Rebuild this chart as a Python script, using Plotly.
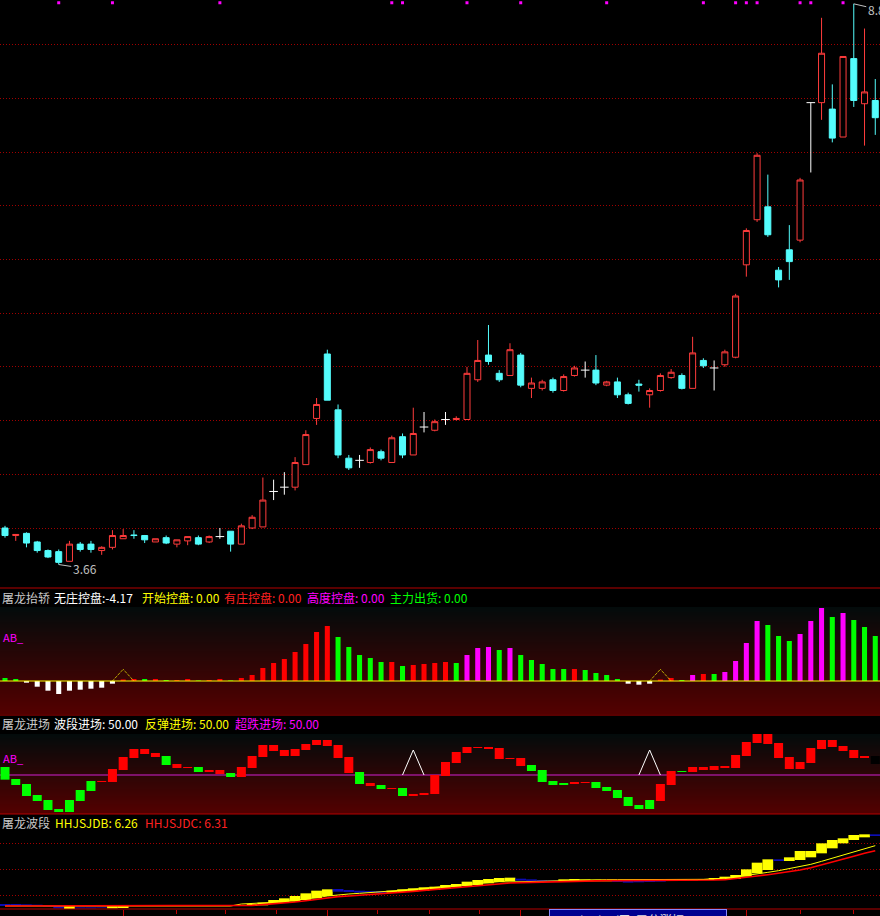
import plotly.graph_objects as go

FIG_W, FIG_H = 880, 916

# ---------------- data ----------------
bar_index = list(range(82))

opens = [4.00, 3.93, 3.95, 3.87, 3.79, 3.78, 3.69, 3.85, 3.85, 3.79,
         3.82, 3.90, 3.935, 3.93, 3.87, 3.91, 3.85, 3.88, 3.91, 3.87,
         3.92, 3.97, 3.85, 4.00, 4.01, 4.34, 4.38, 4.38, 4.59, 5.02,
         5.62, 5.10, 4.65, 4.63, 4.61, 4.71, 4.61, 4.85, 4.68, 4.94,
         4.91, 5.01, 5.01, 5.01, 5.38, 5.61, 5.44, 5.42, 5.61, 5.30,
         5.30, 5.38, 5.28, 5.42, 5.47, 5.47, 5.33, 5.36, 5.24, 5.34,
         5.24, 5.28, 5.40, 5.42, 5.30, 5.56, 5.49, 5.52, 5.59, 6.45,
         6.87, 6.99, 6.40, 6.59, 6.68, 7.96, 7.96, 7.90, 7.64, 8.37,
         7.95, 7.98]
highs = [4.02, 3.94, 3.96, 3.88, 3.80, 3.80, 3.88, 3.87, 3.88, 3.83,
         3.98, 3.99, 3.98, 3.935, 3.90, 3.93, 3.89, 3.92, 3.93, 3.93,
         4.00, 3.97, 4.04, 4.12, 4.47, 4.45, 4.52, 4.66, 4.91, 5.21,
         5.66, 5.15, 4.68, 4.68, 4.75, 4.73, 4.86, 4.88, 5.12, 5.08,
         5.01, 5.08, 5.04, 5.50, 5.75, 5.89, 5.47, 5.72, 5.63, 5.40,
         5.38, 5.40, 5.43, 5.51, 5.55, 5.61, 5.37, 5.40, 5.26, 5.38,
         5.30, 5.44, 5.48, 5.44, 5.78, 5.58, 5.56, 5.66, 6.18, 6.79,
         7.49, 7.29, 6.43, 6.82, 7.26, 7.96, 8.75, 8.13, 8.39, 8.88,
         8.65, 8.18]
lows = [3.91, 3.88, 3.82, 3.77, 3.72, 3.66, 3.69, 3.78, 3.77, 3.75,
        3.80, 3.90, 3.90, 3.86, 3.87, 3.85, 3.82, 3.84, 3.84, 3.86,
        3.90, 3.78, 3.85, 3.99, 4.01, 4.26, 4.31, 4.35, 4.59, 4.96,
        5.19, 4.65, 4.54, 4.56, 4.60, 4.63, 4.61, 4.65, 4.68, 4.89,
        4.90, 4.96, 5.00, 5.01, 5.36, 5.52, 5.36, 5.42, 5.31, 5.21,
        5.28, 5.26, 5.27, 5.41, 5.40, 5.33, 5.32, 5.21, 5.15, 5.27,
        5.12, 5.27, 5.39, 5.29, 5.30, 5.49, 5.28, 5.50, 5.58, 6.34,
        6.85, 6.71, 6.24, 6.31, 6.66, 7.31, 7.80, 7.59, 7.64, 7.92,
        7.56, 7.66]
closes = [3.93, 3.94, 3.86, 3.79, 3.73, 3.68, 3.85, 3.80, 3.80, 3.82,
          3.93, 3.93, 3.93, 3.89, 3.90, 3.86, 3.89, 3.92, 3.85, 3.92,
          3.92, 3.85, 4.02, 4.10, 4.26, 4.34, 4.38, 4.61, 4.87, 5.15,
          5.19, 4.68, 4.56, 4.63, 4.73, 4.65, 4.84, 4.68, 4.88, 4.94,
          4.99, 5.01, 5.02, 5.44, 5.56, 5.55, 5.38, 5.66, 5.33, 5.35,
          5.36, 5.28, 5.41, 5.49, 5.47, 5.35, 5.36, 5.24, 5.16, 5.33,
          5.28, 5.42, 5.45, 5.30, 5.63, 5.51, 5.49, 5.64, 6.16, 6.77,
          7.47, 6.73, 6.31, 6.48, 7.24, 7.96, 8.42, 7.63, 8.39, 7.98,
          8.06, 7.82]

price_grid = [4.0, 4.5, 5.0, 5.5, 6.0, 6.5, 7.0, 7.5, 8.0, 8.5]
signal_bars = [5, 10, 20, 36, 37, 43, 48, 56, 65, 68, 69, 70, 74, 75, 78]
signal_level = 8.89
low_bar, low_price, low_text = 5, 3.66, "3.66"
high_bar, high_price, high_text = 79, 8.88, "8.88"

# panel 1 : 屠龙抬轿
p1_vals = [3, 2, -1.7, -5.7, -9.7, -13, -9.7, -8.7, -7.7, -6.7,
           -2.7, 1.5, 2, 2, 2, 1, 1, 2, 0.5, 1,
           2, 0.5, 3, 6, 13, 18, 22, 29, 37, 49,
           55, 44, 34, 26, 23, 19, 19, 15, 16, 17,
           18, 19, 18, 26, 33, 34, 31, 33, 26, 21,
           17, 12, 12, 12, 11, 8, 6, 2, -2.7, -3.7,
           -2.7, 1.5, 3, 1, 6, 7, 7, 9, 20, 38,
           60, 56, 45, 40, 47, 60, 73, 64, 68, 61,
           54, 45]
p1_kind = ("GGWWWWWWWWWRRGRGRRGRRGRRRRRRRRRGGGGGRGRRR"
           "RGMMMGMGGGGGRGGGGWWWRRGMRGMMMMGGGMMMGMGGG")
p1_tri_bars = [11, 61]
p1_tri_height = 11.7

# panel 2 : 屠龙进场
p2_hi = [59.6, 45.2, 39.2, 26.0, 20.0, 9.2, 20.0, 32.0, 42.8, 42.8,
         57.2, 71.6, 81.2, 81.2, 76.4, 72.8, 63.2, 59.6, 59.6, 56.0,
         56.0, 52.4, 59.6, 72.8, 86.0, 86.0, 80.0, 81.2, 87.2, 92.0,
         92.0, 86.0, 71.6, 53.6, 40.4, 38.0, 34.4, 34.4, 27.2, 28.4,
         50.0, 65.6, 77.6, 83.6, 83.6, 83.6, 82.4, 70.4, 70.4, 62.0,
         56.0, 42.8, 40.4, 41.6, 41.6, 41.6, 35.6, 32.0, 23.6, 14.0,
         20.0, 39.2, 54.8, 54.8, 59.6, 59.6, 60.8, 60.8, 74.0, 89.6,
         99.2, 99.2, 88.4, 71.6, 65.6, 82.4, 92.0, 92.0, 84.8, 80.0,
         72.8, 72.8]
p2_lo = [44.4, 38.0, 24.8, 18.8, 8.0, 5.6, 5.6, 18.8, 30.8, 41.6,
         41.6, 56.0, 70.4, 75.2, 71.6, 62.0, 58.4, 58.4, 53.6, 53.6,
         51.2, 47.6, 47.6, 58.4, 71.6, 78.8, 72.8, 72.8, 80.0, 86.0,
         84.8, 70.4, 52.4, 39.2, 36.8, 33.2, 33.2, 24.8, 24.8, 26.0,
         27.2, 48.8, 64.4, 76.4, 82.4, 81.2, 69.2, 69.2, 60.8, 54.8,
         41.6, 38.0, 38.0, 39.2, 40.4, 34.4, 30.8, 22.4, 12.8, 9.2,
         9.2, 18.8, 38.0, 53.6, 53.6, 56.0, 56.0, 58.4, 58.4, 72.8,
         88.4, 87.2, 70.4, 57.2, 57.2, 64.4, 81.2, 83.6, 78.8, 70.4,
         70.4, 63.2]
p2_kind = ("GGGGGGGGGRRRRRRGRRGRRGRRRRRRRRRRRGRGRGRRR"
           "RRRRRRRRGGGGRRGGGGGGRRGRRRRRRRRRRRRRRRRR")
p2_mid = 50.0
p2_tri_bars = [38, 60]
p2_tri_top = 80.0

# panel 3 : 屠龙波段
band_a = [4.00, 4.00, 4.00, 4.00, 3.98, 3.93, 4.00, 3.93, 3.93, 3.94,
          4.00, 4.00, 4.00, 4.00, 4.00, 4.00, 4.00, 4.00, 4.00, 4.00,
          4.00, 4.00, 4.03, 4.06, 4.10, 4.18, 4.23, 4.30, 4.38, 4.46,
          4.50, 4.43, 4.42, 4.40, 4.40, 4.39, 4.46, 4.50, 4.53, 4.56,
          4.58, 4.63, 4.66, 4.73, 4.78, 4.81, 4.84, 4.85, 4.76, 4.75,
          4.73, 4.72, 4.80, 4.81, 4.80, 4.79, 4.78, 4.72, 4.70, 4.71,
          4.72, 4.73, 4.81, 4.81, 4.80, 4.81, 4.84, 4.88, 4.93, 5.10,
          5.30, 5.40, 5.35, 5.46, 5.65, 5.65, 5.88, 5.98, 6.03, 6.13,
          6.15, 6.10]
band_b = [4.06, 4.06, 4.05, 4.04, 4.03, 4.00, 3.90, 3.96, 3.96, 3.96,
          3.93, 3.94, 4.00, 4.00, 4.00, 4.00, 4.00, 4.00, 4.00, 4.00,
          4.00, 4.00, 4.00, 4.00, 4.02, 4.06, 4.09, 4.13, 4.18, 4.23,
          4.30, 4.51, 4.48, 4.46, 4.45, 4.45, 4.40, 4.42, 4.44, 4.46,
          4.48, 4.52, 4.56, 4.60, 4.63, 4.68, 4.72, 4.74, 4.82, 4.80,
          4.78, 4.77, 4.73, 4.74, 4.74, 4.74, 4.74, 4.76, 4.76, 4.75,
          4.75, 4.76, 4.76, 4.77, 4.77, 4.78, 4.78, 4.78, 4.81, 4.88,
          4.98, 5.08, 5.40, 5.35, 5.38, 5.46, 5.58, 5.73, 5.88, 5.98,
          6.06, 6.15]
hhjsjdb = [4.00, 4.00, 4.00, 4.00, 4.00, 4.00, 4.00, 4.00, 4.00, 4.00,
           4.00, 4.00, 4.00, 4.00, 4.00, 4.00, 4.00, 4.00, 4.00, 4.00,
           4.00, 4.00, 4.06, 4.07, 4.09, 4.11, 4.14, 4.17, 4.21, 4.25,
           4.30, 4.34, 4.36, 4.38, 4.40, 4.42, 4.44, 4.47, 4.50, 4.53,
           4.56, 4.59, 4.62, 4.65, 4.68, 4.71, 4.73, 4.72, 4.73, 4.74,
           4.75, 4.76, 4.77, 4.78, 4.78, 4.79, 4.79, 4.79, 4.79, 4.79,
           4.80, 4.80, 4.80, 4.80, 4.80, 4.80, 4.82, 4.83, 4.87, 4.91,
           4.96, 5.01, 5.06, 5.12, 5.18, 5.25, 5.34, 5.43, 5.52, 5.62,
           5.72, 5.81]
hhjsjdc = [4.00, 4.00, 4.00, 4.00, 4.00, 4.00, 4.00, 4.00, 4.00, 4.00,
           4.00, 4.00, 4.00, 4.00, 4.00, 4.00, 4.00, 4.00, 4.00, 4.00,
           4.00, 4.00, 4.01, 4.02, 4.04, 4.06, 4.09, 4.12, 4.16, 4.20,
           4.25, 4.28, 4.30, 4.32, 4.34, 4.36, 4.38, 4.41, 4.44, 4.47,
           4.50, 4.53, 4.56, 4.59, 4.62, 4.65, 4.67, 4.69, 4.70, 4.71,
           4.72, 4.73, 4.74, 4.75, 4.75, 4.76, 4.76, 4.76, 4.76, 4.76,
           4.77, 4.77, 4.77, 4.77, 4.77, 4.77, 4.78, 4.79, 4.82, 4.86,
           4.90, 4.94, 4.98, 5.03, 5.08, 5.15, 5.23, 5.31, 5.40, 5.49,
           5.58, 5.66]
p3_grid = [4.33, 5.11, 5.89]

month_ticks = [11, 30, 48, 69]
month_labels = ["9", "10", "11", "12"]
week_ticks = [16, 20.5, 25.3, 34.7, 39.5, 44.2, 53, 58, 63, 74, 79]

# ---------------- helpers (layout only) ----------------
def py(px):
    return 1 - px / FIG_H

def pxx(px):
    return px / FIG_W

X0, X1 = -0.465, 81.44
RED_UP = "#ff3c3c"
CYAN = "#54fcfc"
kind_color = {"R": "#ff0000", "G": "#00ff00", "M": "#ff00ff", "W": "#ffffff"}

fig = go.Figure()

# gradient backgrounds for panels 1 and 2 (heatmaps sit below bars)
P1_RANGE = [-33, 74]
P2_RANGE = [3.2, 99.2]
for yax, (lo, hi) in (("y2", P1_RANGE), ("y3", P2_RANGE)):
    fig.add_trace(go.Heatmap(
        x=[X0, X1], y=[lo, hi], z=[[0, 0], [1, 1]], yaxis=yax, zsmooth="best",
        colorscale=[[0, "#540000"], [1, "#030b0b"]], showscale=False, hoverinfo="skip"))

# panel-2 middle line (below its bars, which live on an overlaying axis)
fig.add_trace(go.Scatter(x=[X0, X1], y=[p2_mid, p2_mid], yaxis="y3", mode="lines",
                         line=dict(color="#d020d0", width=1), hoverinfo="skip"))

# ---- main candles ----
flat = [i for i in bar_index if opens[i] == closes[i]]
normal = [i for i in bar_index if opens[i] != closes[i]]
fig.add_trace(go.Candlestick(
    x=normal, open=[opens[i] for i in normal], high=[highs[i] for i in normal],
    low=[lows[i] for i in normal], close=[closes[i] for i in normal],
    increasing=dict(line=dict(color=RED_UP, width=1), fillcolor="#000000"),
    decreasing=dict(line=dict(color=CYAN, width=1), fillcolor=CYAN),
    whiskerwidth=0, hoverinfo="skip"))

dx, dy = [], []
for i in flat:
    dx += [i, i, None, i - 0.4, i + 0.4, None]
    dy += [lows[i], highs[i], None, opens[i], opens[i], None]
fig.add_trace(go.Scatter(x=dx, y=dy, mode="lines", line=dict(color="#ffffff", width=1),
                         hoverinfo="skip"))

fig.add_trace(go.Scatter(x=signal_bars, y=[signal_level] * len(signal_bars), mode="markers",
                         marker=dict(symbol="square", size=3, color="#ff00ff", line=dict(width=0)),
                         hoverinfo="skip"))

# ---- panel 1 ----
fig.add_trace(go.Bar(x=bar_index, y=p1_vals, yaxis="y2", width=0.47,
                     marker=dict(color=[kind_color[k] for k in p1_kind], line=dict(width=0)),
                     hoverinfo="skip"))
tx, ty = [], []
for b in p1_tri_bars:
    tx += [b - 1, b, b + 1, None]
    ty += [0, p1_tri_height, 0, None]
fig.add_trace(go.Scatter(x=tx, y=ty, yaxis="y2", mode="lines",
                         line=dict(color="#ffff00", width=1, dash="1px,1px"), hoverinfo="skip"))
fig.add_trace(go.Scatter(x=[X0, X1], y=[0, 0], yaxis="y2", mode="lines",
                         line=dict(color="#ffff00", width=1), hoverinfo="skip"))

# ---- panel 2 (bars on overlaying axis y5) ----
fig.add_trace(go.Bar(x=bar_index, y=[h - l for h, l in zip(p2_hi, p2_lo)], base=p2_lo,
                     yaxis="y5", width=0.84,
                     marker=dict(color=[kind_color[k] for k in p2_kind], line=dict(width=0)),
                     hoverinfo="skip"))
tx, ty = [], []
for b in p2_tri_bars:
    tx += [b - 1, b, b + 1, None]
    ty += [p2_mid, p2_tri_top, p2_mid, None]
fig.add_trace(go.Scatter(x=tx, y=ty, yaxis="y5", mode="lines",
                         line=dict(color="#ffffff", width=1), hoverinfo="skip"))

# ---- panel 3 ----
fig.add_trace(go.Bar(x=bar_index, y=[abs(a - b) for a, b in zip(band_a, band_b)],
                     base=[min(a, b) for a, b in zip(band_a, band_b)], yaxis="y4", width=1.0,
                     marker=dict(color=["#ffff00" if a >= b else "#0c0cb4" for a, b in zip(band_a, band_b)],
                                 line=dict(width=0)),
                     hoverinfo="skip"))
fig.add_trace(go.Scatter(x=bar_index, y=hhjsjdb, yaxis="y4", mode="lines",
                         line=dict(color="#ffff00", width=1), hoverinfo="skip"))
fig.add_trace(go.Scatter(x=bar_index, y=hhjsjdc, yaxis="y4", mode="lines",
                         line=dict(color="#ff0000", width=1.6), hoverinfo="skip"))

# ---------------- layout ----------------
ann = []
FONT = "Noto Sans CJK SC, sans-serif"

def txt(x, y, s, color, size=12, **kw):
    d = dict(x=pxx(x), y=py(y), xref="paper", yref="paper", text=s, showarrow=False,
             xanchor="left", yanchor="middle", font=dict(family=FONT, size=size, color=color))
    d.update(kw)
    ann.append(d)

txt(0, 597, "屠龙抬轿", "#c8c8c8")
txt(52, 597, "无庄控盘:-4.17", "#ffffff")
txt(140, 597, "开始控盘: 0.00", "#ffff00")
txt(222, 597, "有庄控盘: 0.00", "#ff2020")
txt(305, 597, "高度控盘: 0.00", "#ff00ff")
txt(388, 597, "主力出货: 0.00", "#00ff00")

txt(0, 723, "屠龙进场", "#c8c8c8")
txt(52, 723, "波段进场: 50.00", "#ffffff")
txt(143, 723, "反弹进场: 50.00", "#ffff00")
txt(233, 723, "超跌进场: 50.00", "#ff00ff")

txt(0, 822, "屠龙波段", "#c8c8c8")
txt(53, 822, "HHJSJDB: 6.26", "#ffff00")
txt(143, 822, "HHJSJDC: 6.31", "#ff2020")

txt(1, 637, "AB_", "#ff00ff", size=11)
txt(1, 758, "AB_", "#ff00ff", size=11)

for t, lab in zip(month_ticks, month_labels):
    ann.append(dict(x=t + 0.25, y=py(909), xref="x", yref="paper", text=lab, showarrow=False,
                    xanchor="left", yanchor="top", font=dict(family=FONT, size=12, color="#c8c8c8")))
ann.append(dict(x=pxx(549), y=py(909), xref="paper", yref="paper",
                text="2024/11/06/三  五分涨幅11.88%", showarrow=False, xanchor="left", yanchor="top",
                bgcolor="#000090", bordercolor="#8888ff", borderwidth=1, borderpad=1,
                font=dict(family=FONT, size=12, color="#e0e0e0")))

ann.append(dict(x=low_bar, y=low_price, xref="x", yref="y", text=low_text, showarrow=True,
                ax=26, ay=4, arrowhead=0, arrowwidth=1, arrowcolor="#c0c0c0",
                font=dict(family=FONT, size=12, color="#c0c0c0")))
ann.append(dict(x=high_bar, y=high_price, xref="x", yref="y", text=high_text, showarrow=True,
                ax=26, ay=6, arrowhead=0, arrowwidth=1, arrowcolor="#c0c0c0",
                font=dict(family=FONT, size=12, color="#c0c0c0")))

shapes = []
for ypx in (588, 715, 814, 909):
    shapes.append(dict(type="line", xref="paper", yref="paper", x0=0, x1=1, y0=py(ypx), y1=py(ypx),
                       line=dict(color="#b40000", width=1.2)))

common_y = dict(showticklabels=False, zeroline=False, fixedrange=True, anchor="x", showline=False)
fig.update_layout(
    width=FIG_W, height=FIG_H, margin=dict(l=0, r=0, t=0, b=0),
    paper_bgcolor="#000000", plot_bgcolor="#000000", showlegend=False,
    barmode="overlay", boxgap=0.2, annotations=ann, shapes=shapes,
    xaxis=dict(domain=[0, 1], range=[X0, X1], anchor="y4", showgrid=False, zeroline=False,
               showticklabels=False, ticks="outside", tickvals=month_ticks, ticklen=6,
               tickcolor="#c00000", tickwidth=1,
               minor=dict(tickvals=week_ticks, ticks="outside", ticklen=4, tickcolor="#c00000"),
               rangeslider=dict(visible=False), fixedrange=True),
    yaxis=dict(domain=[py(588), 1], range=[3.4414, 8.9157], tickvals=price_grid, showgrid=True,
               gridcolor="#a00000", griddash="1px,2px", gridwidth=1, **common_y),
    yaxis2=dict(domain=[py(714), py(607)], range=P1_RANGE, showgrid=False, **common_y),
    yaxis3=dict(domain=[py(814), py(734)], range=P2_RANGE, showgrid=False, **common_y),
    yaxis5=dict(overlaying="y3", range=P2_RANGE, showgrid=False, **common_y),
    yaxis4=dict(domain=[py(909), py(830)], range=[3.91, 6.28], tickvals=p3_grid, showgrid=True,
                gridcolor="#a00000", griddash="1px,2px", gridwidth=1, **common_y),
)

fig.write_html("out.html", post_script="document.body.style.margin='0';",
               config={"displayModeBar": False, "staticPlot": True})
